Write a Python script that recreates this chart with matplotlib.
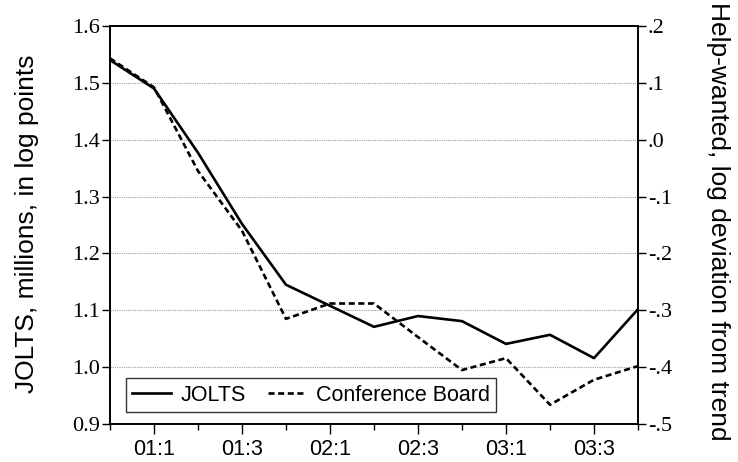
import matplotlib
matplotlib.use("Agg")
import matplotlib.pyplot as plt
from matplotlib.ticker import FixedLocator, FuncFormatter

# quarters from 2000:4 to 2003:4
quarters = ["00:4", "01:1", "01:2", "01:3", "01:4", "02:1", "02:2", "02:3",
            "02:4", "03:1", "03:2", "03:3", "03:4"]
jolts = [1.540, 1.490, 1.377, 1.252, 1.145, 1.108, 1.071, 1.090, 1.081,
         1.041, 1.057, 1.016, 1.102]
conf_board = [0.143, 0.092, -0.055, -0.160, -0.315, -0.288, -0.288, -0.347,
              -0.405, -0.384, -0.466, -0.422, -0.398]
left_ticks = [0.9, 1.0, 1.1, 1.2, 1.3, 1.4, 1.5, 1.6]
right_ticks = [-0.5, -0.4, -0.3, -0.2, -0.1, 0.0, 0.1, 0.2]

serif = "Liberation Serif"
sans = "Liberation Sans"

fig = plt.figure(figsize=(7.38, 4.62), dpi=100)
ax = fig.add_axes([0.149, 0.082, 0.7155, 0.862])
ax2 = ax.twinx()

x = list(range(len(quarters)))

ax.set_xlim(0, len(quarters) - 1)
ax.set_ylim(0.9, 1.6)
ax2.set_ylim(-0.5, 0.2)

ax.yaxis.grid(True, color="#a0a0a0", linestyle=(0, (1, 1)), linewidth=0.8)
ax.set_axisbelow(True)

l1, = ax.plot(x, jolts, color="black", linewidth=1.9, label="JOLTS")
l2, = ax2.plot(x, conf_board, color="black", linewidth=1.9,
               linestyle=(0, (2.3, 1.35)), label="Conference Board")

# x ticks: labels every other quarter, minor ticks every quarter
major = [i for i, q in enumerate(quarters) if q[-1] in "13" and q != "00:4"]
ax.xaxis.set_major_locator(FixedLocator(major))
ax.set_xticklabels([quarters[i] for i in major], fontfamily=sans, fontsize=15.5)
ax.xaxis.set_minor_locator(FixedLocator(x))
ax.tick_params(axis="x", which="major", direction="out", length=7.5, width=1, pad=3)
ax.tick_params(axis="x", which="minor", direction="out", length=4, width=1)

ax.set_yticks(left_ticks)
ax.set_yticklabels([f"{v:.1f}" for v in left_ticks], fontfamily=serif, fontsize=16)
ax.tick_params(axis="y", direction="out", length=6, width=1, pad=1)

ax2.set_yticks(right_ticks)
ax2.yaxis.set_major_formatter(FuncFormatter(
    lambda v, p: ("-" if v < -1e-9 else "") + f"{abs(v):.1f}".lstrip("0")))
for t in ax2.get_yticklabels():
    t.set_fontfamily(serif)
    t.set_fontsize(16)
ax2.tick_params(axis="y", direction="out", length=6, width=1, pad=1)

for a in (ax, ax2):
    for s in a.spines.values():
        s.set_linewidth(1.2)

ax.set_ylabel("JOLTS, millions, in log points", fontfamily=sans, fontsize=19,
              va="center")
ax.yaxis.set_label_coords(-0.158, 0.502)
ax2.set_ylabel("Help-wanted, log deviation from trend", fontfamily=sans,
               fontsize=19, rotation=270, va="center")
ax2.yaxis.set_label_coords(1.152, 0.51)

leg = ax.legend(handles=[l1, l2], loc="lower left", bbox_to_anchor=(0.03, 0.03),
                ncol=2, frameon=True, fancybox=False, edgecolor="black",
                prop={"family": sans, "size": 15.5}, handlelength=1.8,
                columnspacing=1.0, handletextpad=0.45, borderpad=0.3,
                borderaxespad=0)
leg.get_frame().set_linewidth(1.0)

fig.savefig("out.png", dpi=100)
